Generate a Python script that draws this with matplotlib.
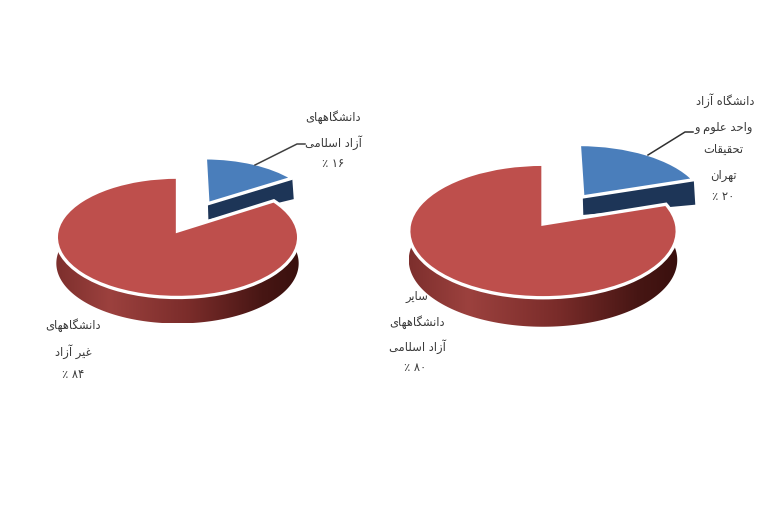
import unicodedata
import numpy as np
import matplotlib
matplotlib.use("Agg")
import matplotlib.pyplot as plt
from matplotlib.colors import LinearSegmentedColormap
from matplotlib.patches import Polygon
from matplotlib.transforms import Transform

# ---- data ----
left_values = [16, 84]
right_values = [20, 80]
left_blue_lines = ["دانشگاههای", "آزاد اسلامی"]
left_red_lines = ["دانشگاههای", "غیر آزاد"]
right_blue_lines = ["دانشگاه آزاد", "واحد علوم و", "تحقیقات", "تهران"]
right_red_lines = ["سایر", "دانشگاههای", "آزاد اسلامی"]

# ---- style ----
TOP_RED = "#BE4F4C"
TOP_BLUE = "#4A7EBB"
NAVY = "#1D3557"
TEXT = "#3a3a3a"
plt.rcParams["font.family"] = ["DejaVu Sans"]

RIGHT_JOIN = set("اآدذرزژو")
PERSIAN_DIGITS = "۰۱۲۳۴۵۶۷۸۹"


def is_letter(c):
    return "\u0600" <= c <= "\u06ff"


def shape(text):
    """Join Persian letters and put them in display order (no shaping in Agg text)."""
    out = []
    for i, c in enumerate(text):
        if not is_letter(c):
            out.append(c)
            continue
        prev_j = i > 0 and is_letter(text[i - 1]) and text[i - 1] not in RIGHT_JOIN
        next_j = i + 1 < len(text) and is_letter(text[i + 1])
        if c in RIGHT_JOIN:
            next_j = False
        form = {(True, True): "MEDIAL", (True, False): "FINAL",
                (False, True): "INITIAL", (False, False): "ISOLATED"}[(prev_j, next_j)]
        try:
            out.append(unicodedata.lookup(f"{unicodedata.name(c)} {form} FORM"))
        except KeyError:
            out.append(c)
    return "".join(reversed(out))


def pct(v):
    return "٪ " + "".join(PERSIAN_DIGITS[int(d)] for d in str(v))


class Persp(Transform):
    """Tilted view of the unit pie, in figure pixels."""
    input_dims = output_dims = 2
    is_separable = False
    has_inverse = False
    is_affine = False

    def __init__(self, cx, cy, R, a, k):
        super().__init__()
        self.p = (cx, cy, R, a, k)

    def transform_non_affine(self, values):
        cx, cy, R, a, k = self.p
        values = np.asarray(values, dtype=float)
        u, v = values[:, 0], values[:, 1]
        w = 1 + k * v
        return np.column_stack([cx + R * u / w, cy - a * v / w])


fig = plt.figure(figsize=(7.65, 5.1), dpi=100, facecolor="white")
ax = fig.add_axes([0, 0, 1, 1])
side_cmap = LinearSegmentedColormap.from_list(
    "side", [(0, "#7d2f2d"), (0.22, "#9c413e"), (0.55, "#7a2c2a"), (0.85, "#471614"), (1, "#3a100e")])


def draw_pie(values, cx, cy, R, a, k, explode, blue_r, depth, bdepth):
    tr = Persp(cx, cy, R, a, k)
    wedges, _ = ax.pie(values, explode=[explode, 0], colors=[TOP_BLUE, TOP_RED], startangle=90,
                       counterclock=False, radius=1, wedgeprops=dict(edgecolor="white", linewidth=2.4))
    blue, red = wedges
    blue.set_radius(blue_r)
    for w, z in ((blue, 3), (red, 6)):
        w.set_transform(tr + ax.transData)
        w.set_zorder(z)
        w.set_clip_on(False)

    # side of the exploded slice, along its cut edge
    ang = np.deg2rad(min(blue.theta1, blue.theta2))
    bc = np.array(blue.center)
    p = tr.transform_non_affine(np.array([bc, bc + blue_r * np.array([np.cos(ang), np.sin(ang)])]))
    ax.add_patch(Polygon([p[0], p[1], p[1] + [1.5, bdepth[1]], p[0] + [0.5, bdepth[0]]],
                         closed=True, fc=NAVY, ec="none", zorder=2))

    # rim of the big slice
    t = np.deg2rad(np.linspace(170, 370, 240))
    arc = tr.transform_non_affine(np.column_stack([np.cos(t), np.sin(t)]))
    rim = np.vstack([arc, arc[::-1] + [0, depth]])
    poly = Polygon(rim, closed=True, fc="none", ec="none", transform=ax.transData)
    ax.add_patch(poly)
    x0, x1 = rim[:, 0].min(), rim[:, 0].max()
    y0, y1 = rim[:, 1].min(), rim[:, 1].max()
    im = ax.imshow(np.linspace(0, 1, 256)[None, :], cmap=side_cmap, extent=(x0, x1, y1, y0),
                   aspect="auto", zorder=5, interpolation="bilinear")
    im.set_clip_path(poly)


draw_pie(left_values, 177.5, 232, 120.5, 59.5, 0.105, 0.55, 0.93, 26, (16, 21))
draw_pie(right_values, 543.0, 225, 133.5, 66, 0.105, 0.53, 0.95, 29, (18, 25))

ax.set_xlim(0, 765)
ax.set_ylim(510, 0)
ax.set_aspect("auto")
ax.axis("off")


def label(lines, value, x, ys, xs=None):
    rows = [shape(s) for s in lines] + [pct(value)]
    for i, (r, y) in enumerate(zip(rows, ys)):
        ax.text(xs[i] if xs else x, y, r, ha="center", va="center", fontsize=8.3, color=TEXT, zorder=10)


label(left_blue_lines, left_values[0], 333, [117, 143, 164])
label(left_red_lines, left_values[1], 73, [325, 352, 375])
label(right_blue_lines, right_values[0], 723, [101, 127, 149, 176, 197], [725, 724, 723, 723, 723])
label(right_red_lines, right_values[1], 417, [297, 322, 347, 368], [417, 417, 417, 415])

ax.plot([255, 297, 305], [166, 145, 145], color="#404040", lw=1.1, zorder=9)
ax.plot([648, 685, 693], [156, 133, 133], color="#303030", lw=1.1, zorder=9)

fig.savefig("out.png", dpi=100, facecolor="white")
